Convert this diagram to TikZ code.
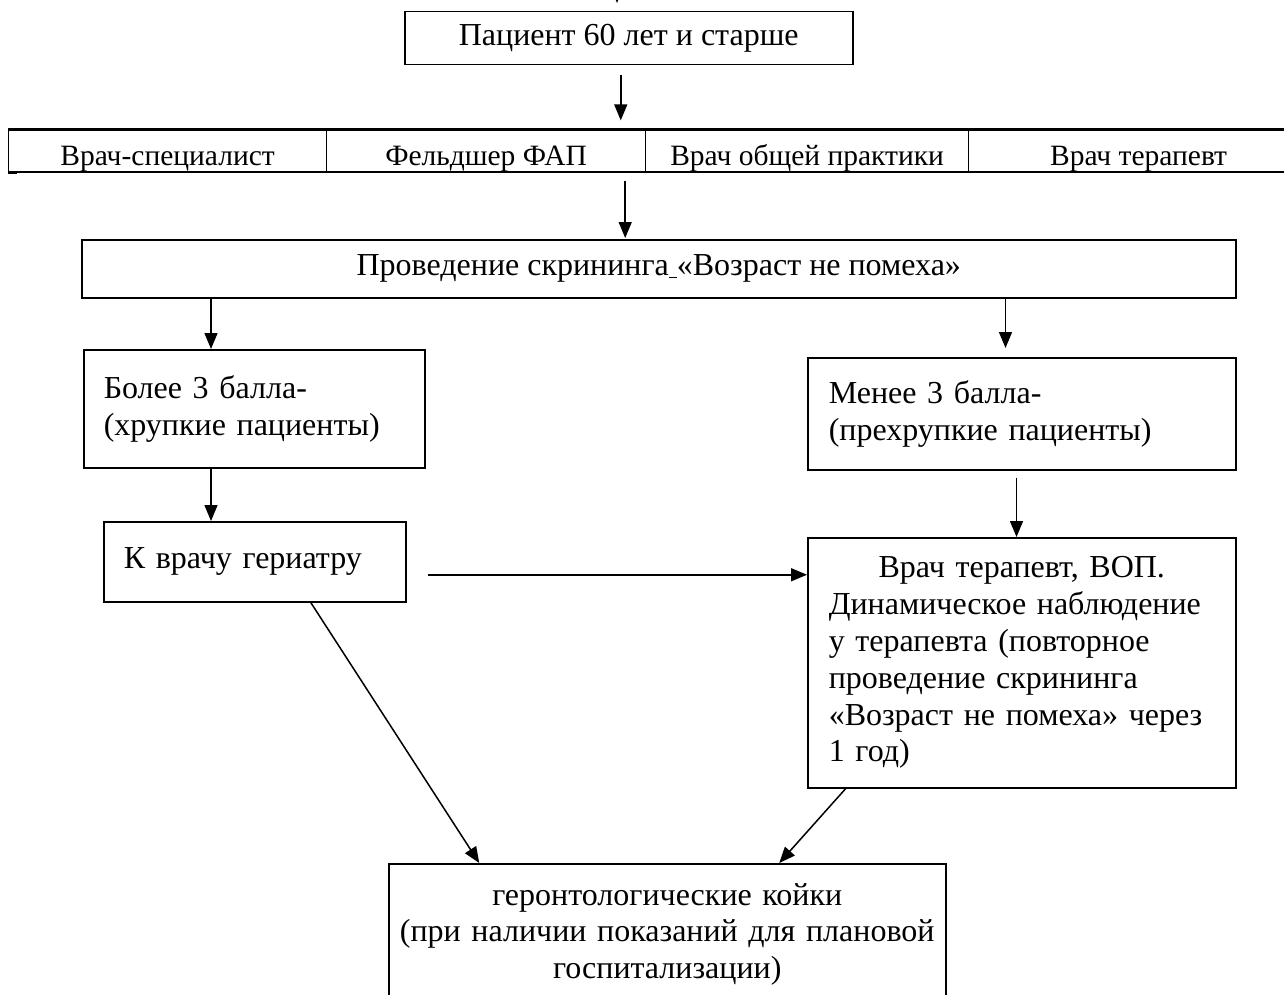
\documentclass[tikz,border=0pt]{standalone}
\usepackage{fontspec}
\setmainfont{Liberation Serif}
\usetikzlibrary{arrows.meta,calc}
\begin{document}
\begin{tikzpicture}[x=1pt,y=-1pt,
  box/.style={draw, line width=1.5pt, anchor=north west, inner ysep=0pt,
    font=\fontsize{32}{36.8}\selectfont},
  cell/.style={draw, line width=1.2pt, anchor=base west, inner xsep=0pt, inner ysep=0pt,
    text height=36pt, text depth=6pt, font=\fontsize{29.5}{34}\selectfont},
  arr/.style={-{Triangle[length=16pt,width=13pt]}, line width=1.5pt}]
\useasboundingbox (0,0) rectangle (1284,995);
\clip (0,0) rectangle (1284,995);
\fill[white] (0,0) rectangle (1284,995);

% fragment of an arrow entering from above
\coordinate (above) at (617,-40);
\coordinate (topin) at (617,3);
\draw[arr] (above) -- (topin);

\node[box, minimum width=448pt, minimum height=53pt] (top) at (404,11) {Пациент 60 лет и старше};

\node[cell, minimum width=318pt] (c1) at (8,166) {Врач-специалист};
\node[cell, minimum width=319pt] (c2) at (326,166) {Фельдшер ФАП};
\node[cell, minimum width=323pt] (c3) at (645,166) {Врач общей практики};
\node[cell, minimum width=340pt] (c4) at (968,166) {Врач терапевт};
\draw[line width=2.6pt] (c1.north west) -- (c4.north east);
\draw[line width=2pt] (c1.south west) -- ++(9,0);

\node[box, minimum width=1154pt, minimum height=58pt] (scr) at (81,239)
  {Проведение скрининга\underline{\ }«Возраст не помеха»};

\node[box, inner xsep=20pt, text width=301pt, minimum height=118pt, align=left] (bol) at (83,349)
  {Более 3 балла-\\(хрупкие пациенты)};
\node[box, inner xsep=21pt, text width=386pt, minimum height=112pt, align=left] (men) at (807,357)
  {Менее 3 балла-\\(прехрупкие пациенты)};
\node[box, inner xsep=20pt, text width=262pt, minimum height=80pt, align=left] (kv) at (103,521)
  {К врачу гериатру};
\node[box, inner xsep=21pt, text width=386pt, minimum height=250pt, align=left] (big) at (807,537)
  {\makebox[386pt]{Врач терапевт, ВОП.}\\Динамическое наблюдение\\у терапевта (повторное\\проведение скрининга\\«Возраст не помеха» через\\1 год)};
\node[box, inner xsep=10pt, text width=537pt, minimum height=141pt, align=center] (bed) at (388,863)
  {геронтологические койки\\(при наличии показаний для плановой\\госпитализации)};

% connectors
\draw[arr, shorten >=9pt] ([xshift=-8pt,yshift=-10pt]top.south) -- ([xshift=-8pt]top.south |- c2.north);
\draw[arr, shorten >=1pt] ([xshift=-21pt,yshift=-8pt]c2.south east) -- ([xshift=-21pt]c2.south east |- scr.north);
\draw[arr] ([xshift=130pt]scr.south west) -- ([xshift=130pt]scr.south west |- bol.north);
\draw[arr, shorten >=9pt] ([xshift=-231pt]scr.south east) -- ([xshift=-231pt]scr.south east |- men.north);
\draw[arr] ([xshift=128pt]bol.south west) -- ([xshift=128pt]bol.south west |- kv.north);
\draw[arr] ([xshift=-220pt,yshift=-7pt]men.south east) -- ([xshift=-220pt]men.south east |- big.north);
\draw[arr] ([xshift=21pt,yshift=-13pt]kv.east) -- ([yshift=-13pt]kv.east -| big.west);
\draw[arr] ([xshift=56pt]kv.south) -- ([xshift=-188pt]bed.north);
\draw[arr] ([xshift=-176pt]big.south) -- ([xshift=112pt]bed.north);
\end{tikzpicture}
\end{document}
